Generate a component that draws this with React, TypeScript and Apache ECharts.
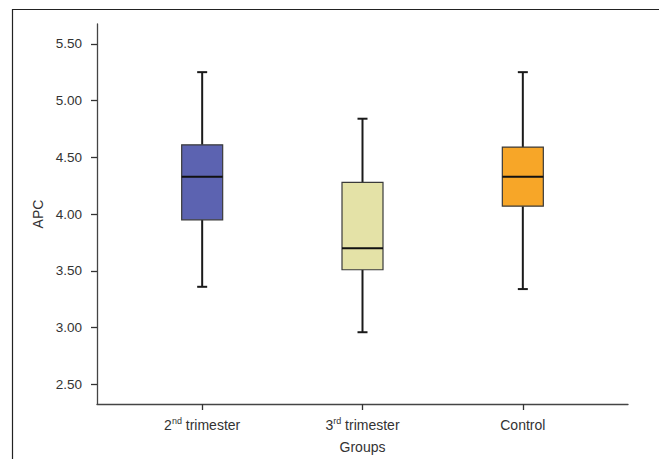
import React, { useEffect, useRef } from "react";
import * as echarts from "echarts";

const categories = ["2nd trimester", "3rd trimester", "Control"];
const whiskerLow = [3.36, 2.96, 3.34];
const q1 = [3.95, 3.51, 4.07];
const median = [4.33, 3.7, 4.33];
const q3 = [4.61, 4.28, 4.59];
const whiskerHigh = [5.25, 4.84, 5.25];
const boxColors = ["#5c63b1", "#e4e2a7", "#f7a628"];
const yTicks = [2.5, 3.0, 3.5, 4.0, 4.5, 5.0, 5.5];
const xPositions = [1, 2, 3];

function formatCategory(name: string): string {
  const m = name.match(/^(\d)(st|nd|rd|th)\s(.*)$/);
  if (m) return `{main|${m[1]}}{sup|${m[2]}}{main| ${m[3]}}`;
  return `{main|${name}}`;
}

export default function App() {
  const ref = useRef<HTMLDivElement>(null);
  useEffect(() => {
    if (!ref.current) return;
    const chart = echarts.init(ref.current, null, { renderer: "svg" });
    const data = categories.map((_, i) => [
      xPositions[i],
      whiskerLow[i],
      q1[i],
      median[i],
      q3[i],
      whiskerHigh[i],
    ]);
    const font = "Liberation Sans, Arial, sans-serif";
    chart.setOption({
      animation: false,
      backgroundColor: "#ffffff",
      textStyle: { fontFamily: font },
      graphic: [
        {
          type: "polyline",
          shape: { points: [[12.5, 470], [12.5, 9.5], [659, 9.5]] },
          style: { stroke: "#222", lineWidth: 1.2, fill: "none" },
          silent: true,
        },
      ],
      grid: { left: 97, top: 24, width: 531, height: 384, containLabel: false },
      xAxis: {
        type: "value",
        min: 0.344,
        max: 3.656,
        name: "Groups",
        nameLocation: "middle",
        nameGap: 36,
        nameTextStyle: { fontSize: 14, color: "#333", fontFamily: font },
        splitLine: { show: false },
        axisLine: { show: true, lineStyle: { color: "#444", width: 1.3 } },
        axisTick: { show: true, length: 6, customValues: xPositions, lineStyle: { color: "#333", width: 1.3 } },
        axisLabel: {
          show: true,
          customValues: xPositions,
          margin: 12,
          formatter: (v: number) => {
            const idx = xPositions.indexOf(v);
            return idx >= 0 ? formatCategory(categories[idx]) : "";
          },
          rich: {
            main: { fontSize: 14, color: "#333", fontFamily: font, lineHeight: 16, verticalAlign: "bottom" },
            sup: { fontSize: 9, color: "#333", fontFamily: font, lineHeight: 16, verticalAlign: "top" },
          },
        },
      },
      yAxis: {
        type: "value",
        min: 2.328,
        max: 5.674,
        name: "APC",
        nameLocation: "middle",
        nameRotate: 90,
        nameGap: 50,
        nameTextStyle: { fontSize: 14, color: "#333", fontFamily: font },
        splitLine: { show: false },
        axisLine: { show: true, lineStyle: { color: "#444", width: 1.3 } },
        axisTick: { show: true, length: 6, customValues: yTicks, lineStyle: { color: "#333", width: 1.3 } },
        axisLabel: {
          show: true,
          customValues: yTicks,
          margin: 15,
          fontSize: 13.5,
          color: "#333",
          fontFamily: font,
          formatter: (v: number) => v.toFixed(2),
        },
      },
      series: [
        {
          type: "custom",
          clip: false,
          encode: { x: 0, y: [1, 2, 3, 4, 5] },
          data,
          renderItem: (params: any, api: any) => {
            const x = api.value(0);
            const pLo = api.coord([x, api.value(1)]);
            const pQ1 = api.coord([x, api.value(2)]);
            const pMed = api.coord([x, api.value(3)]);
            const pQ3 = api.coord([x, api.value(4)]);
            const pHi = api.coord([x, api.value(5)]);
            const cx = pMed[0];
            const halfW = 20.5;
            const capW = 5;
            const lineStyle = { stroke: "#1a1a1a", lineWidth: 2 };
            return {
              type: "group",
              children: [
                { type: "line", shape: { x1: cx, y1: pHi[1], x2: cx, y2: pQ3[1] }, style: lineStyle },
                { type: "line", shape: { x1: cx - capW, y1: pHi[1], x2: cx + capW, y2: pHi[1] }, style: lineStyle },
                { type: "line", shape: { x1: cx, y1: pLo[1], x2: cx, y2: pQ1[1] }, style: lineStyle },
                { type: "line", shape: { x1: cx - capW, y1: pLo[1], x2: cx + capW, y2: pLo[1] }, style: lineStyle },
                {
                  type: "rect",
                  shape: { x: cx - halfW, y: pQ3[1], width: halfW * 2, height: pQ1[1] - pQ3[1] },
                  style: { fill: boxColors[params.dataIndex], stroke: "#3a3a3a", lineWidth: 1.2 },
                },
                { type: "line", shape: { x1: cx - halfW, y1: pMed[1], x2: cx + halfW, y2: pMed[1] }, style: { stroke: "#111", lineWidth: 2 } },
              ],
            };
          },
        },
      ],
    });
    return () => chart.dispose();
  }, []);
  return <div ref={ref} style={{ position: "absolute", left: 0, top: 0, width: 659, height: 459 }} />;
}
